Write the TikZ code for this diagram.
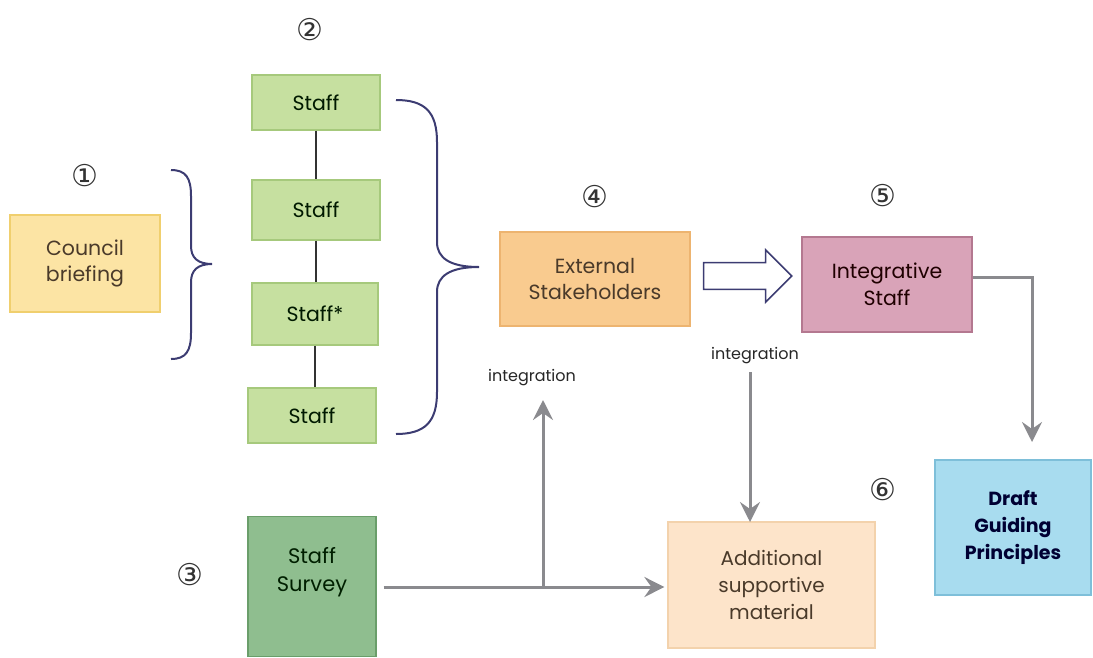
\documentclass[tikz,border=0pt]{standalone}
\usepackage{fontspec}
\setmainfont{Poppins}
\newfontfamily\symfont{DejaVu Sans}
\usetikzlibrary{shapes.arrows,arrows.meta,calc}
\definecolor{cbfill}{HTML}{FCE4A4}\definecolor{cbline}{HTML}{F0CF6E}
\definecolor{stfill}{HTML}{C6E0A0}\definecolor{stline}{HTML}{A6C97C}
\definecolor{exfill}{HTML}{F9CB8F}\definecolor{exline}{HTML}{EDB470}
\definecolor{infill}{HTML}{D9A3B8}\definecolor{inline}{HTML}{B47890}
\definecolor{drfill}{HTML}{A8DCEF}\definecolor{drline}{HTML}{7EBFD9}
\definecolor{adfill}{HTML}{FDE4CA}\definecolor{adline}{HTML}{F3D2AC}
\definecolor{svfill}{HTML}{8FBE8F}\definecolor{svline}{HTML}{6A9E6A}
\definecolor{grayarr}{HTML}{8A8A8E}
\definecolor{bracecol}{HTML}{3C3C72}
\definecolor{txt}{HTML}{4A3A2A}
\tikzset{
  box/.style={draw, line width=1.2pt, inner sep=0pt, align=center, font=\fontsize{20.5}{26.5}\selectfont, text=txt},
  staffbox/.style={box, fill=stfill, draw=stline, text=black!75!green!40!black},
  num/.style={font=\symfont\fontsize{30}{30}\selectfont, text=black!80},
  lbl/.style={font=\fontsize{16}{18}\selectfont, text=black!85},
  garrow/.style={draw=grayarr, line width=3pt, -{Stealth[length=20pt,width=20pt,inset=7pt]}},
  bracestyle/.style={draw=bracecol, line width=2pt},
  stline/.style={line width=1.2pt, black!80},
}
\begin{document}
\begin{tikzpicture}[x=1pt,y=-1pt]
\useasboundingbox (0,0) rectangle (1093,657);
% boxes
\node[box, fill=cbfill, draw=cbline, minimum width=150pt, minimum height=97pt] (council) at (85,263.5) {Council\\[0pt]briefing};
\node[staffbox, minimum width=128pt, minimum height=55pt] (s1) at (316,102.5) {Staff};
\node[staffbox, minimum width=128pt, minimum height=60pt] (s2) at (316,210) {Staff};
\node[staffbox, minimum width=126pt, minimum height=62pt] (s3) at (315,314) {Staff*};
\node[staffbox, minimum width=128pt, minimum height=55pt] (s4) at (312,415.5) {Staff};
\node[box, fill=exfill, draw=exline, minimum width=190pt, minimum height=94pt] (ext) at (595,279) {External\\Stakeholders};
\node[box, fill=infill, draw=inline, minimum width=170pt, minimum height=95pt, text=black!70!red!40!black] (integ) at (887,284.5) {Integrative\\Staff};
\node[box, fill=drfill, draw=drline, minimum width=156pt, minimum height=135pt, text=black!80!blue, font=\bfseries\fontsize{19}{27}\selectfont] (draft) at (1013,527.5) {Draft\\Guiding\\Principles};
\node[box, fill=adfill, draw=adline, minimum width=207pt, minimum height=126pt, font=\fontsize{20}{27}\selectfont] (addl) at (771.5,585) {Additional\\supportive\\material};
\node[box, fill=svfill, draw=svline, minimum width=128pt, minimum height=140pt, text=black!70!green!40!black, font=\fontsize{21}{28}\selectfont, anchor=north] (survey) at (312,516) {Staff\\Survey\\[6pt]};
% hollow arrow
\node[single arrow, draw=bracecol, fill=white, line width=1.5pt, minimum height=88pt, minimum width=52pt, inner sep=12pt, single arrow head extend=12pt] (harrow) at (741,276) {};
% numbers
\node[num] (n1) at (85,176) {①};
\node[num] (n2) at (310,30) {②};
\node[num] (n3) at (190,575) {③};
\node[num] (n4) at (595,197) {④};
\node[num] (n5) at (883,196) {⑤};
\node[num] (n6) at (883,490) {⑥};
% labels
\node[lbl] (lab1) at (532,378) {integration};
\node[lbl] (lab2) at (755,356) {integration};
% staff connectors
\draw[stline] (s1.south) -- (s1.south |- s2.north);
\draw[stline] (s2.south) -- (s2.south |- s3.north);
\draw[stline] (s3.south) -- (s3.south |- s4.north);
% braces
\coordinate (b1a) at (171,170); \coordinate (b1t) at (212,264); \coordinate (b1b) at (171,359);
\draw[bracestyle] (b1a) .. controls (186,170) and (191,178) .. (191,196) -- (191,246)
  .. controls (191,258) and (198,264) .. (b1t)
  .. controls (198,264) and (191,270) .. (191,282) -- (191,333)
  .. controls (191,351) and (186,359) .. (b1b);
\coordinate (b2a) at (396,100); \coordinate (b2t) at (479,267); \coordinate (b2b) at (396,434);
\draw[bracestyle] (b2a) .. controls (425,100) and (437,112) .. (437,142) -- (437,242)
  .. controls (437,258) and (450,267) .. (b2t)
  .. controls (450,267) and (437,276) .. (437,292) -- (437,392)
  .. controls (437,422) and (425,434) .. (b2b);
% gray arrows
\coordinate (junc) at (543,587);
\draw[garrow, shorten <=7pt, shorten >=3pt] (survey.east |- junc) -- (addl.west |- junc);
\draw[garrow] (junc) -- (543,400);
\draw[garrow] (750,372) -- (750,522);
\draw[garrow, shorten >=18pt] (integ.east |- 0,277) -| (1032,460);
\end{tikzpicture}
\end{document}
